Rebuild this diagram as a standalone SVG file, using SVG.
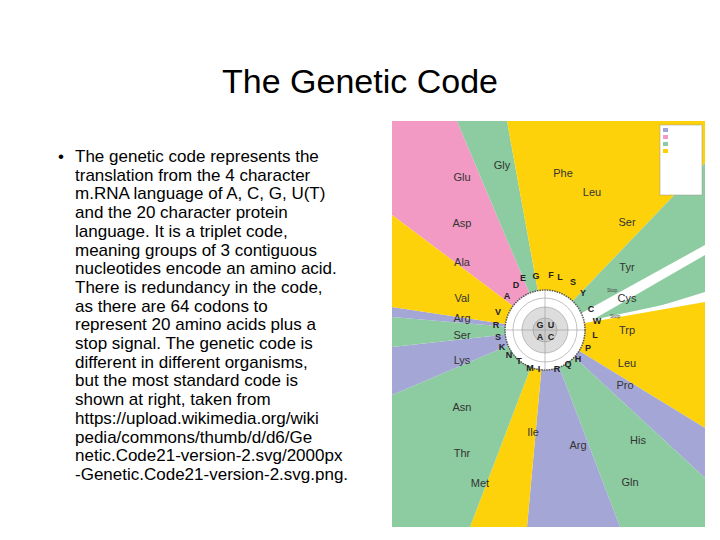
<svg xmlns="http://www.w3.org/2000/svg" width="720" height="540" viewBox="0 0 720 540">
<style>
.t{font-family:"Liberation Sans",Arial,sans-serif;font-size:17px;fill:#000}
.aa{font-family:"Liberation Sans",Arial,sans-serif;font-size:11px;fill:#333;text-anchor:middle}
.sm{font-family:"Liberation Sans",Arial,sans-serif;font-size:5px;fill:#444}
.l{font-family:"Liberation Sans",Arial,sans-serif;font-size:9px;font-weight:bold;fill:#222;text-anchor:middle}
.y{fill:#fdd20a}.g{fill:#8ccca0}.p{fill:#f29ac3}.v{fill:#a4a6d6}
</style>
<rect width="720" height="540" fill="#fff"/>
<text x="360" y="93" text-anchor="middle" style="font-family:'Liberation Sans',Arial,sans-serif;font-size:34px">The Genetic Code</text>
<g id="bullet">
<text class="t" x="58" y="162">•</text>
<text class="t" x="75" y="162">The genetic code represents the</text>
<text class="t" x="75" y="180.7">translation from the 4 character</text>
<text class="t" x="75" y="199.4">m.RNA language of A, C, G, U(T)</text>
<text class="t" x="75" y="218.1">and the 20 character protein</text>
<text class="t" x="75" y="236.8">language. It is a triplet code,</text>
<text class="t" x="75" y="255.5">meaning groups of 3 contiguous</text>
<text class="t" x="75" y="274.2">nucleotides encode an amino acid.</text>
<text class="t" x="75" y="292.9">There is redundancy in the code,</text>
<text class="t" x="75" y="311.6">as there are 64 codons to</text>
<text class="t" x="75" y="330.3">represent 20 amino acids plus a</text>
<text class="t" x="75" y="349">stop signal. The genetic code is</text>
<text class="t" x="75" y="367.7">different in different organisms,</text>
<text class="t" x="75" y="386.4">but the most standard code is</text>
<text class="t" x="75" y="405.1">shown at right, taken from</text>
<text class="t" x="75" y="423.8">https://upload.wikimedia.org/wiki</text>
<text class="t" x="75" y="442.5">pedia/commons/thumb/d/d6/Ge</text>
<text class="t" x="75" y="461.2">netic.Code21-version-2.svg/2000px</text>
<text class="t" x="75" y="479.9">-Genetic.Code21-version-2.svg.png.</text>
</g>
<g id="wheel">
<rect x="392" y="121" width="313" height="406" fill="#fff"/>
<polygon class="p" points="545,330 392,215 392,121 457,121"/>
<polygon class="g" points="545,330 457,121 507,121"/>
<polygon class="y" points="545,330 507,121 705,121 705,163"/>
<polygon class="g" points="545,330 705,163 705,296"/>
<polygon fill="#fff" points="560,325 705,245 705,255 575,330"/>
<polygon fill="#fff" points="575,332 705,292 705,302 580,340"/>
<polygon class="y" points="545,330 705,302 705,428"/>
<polygon class="v" points="545,330 705,428 705,478"/>
<polygon class="g" points="545,330 705,478 705,527 620,527"/>
<polygon class="v" points="545,330 620,527 527,527"/>
<polygon class="y" points="545,330 527,527 470,527"/>
<polygon class="g" points="545,330 470,527 392,527 392,395"/>
<polygon class="v" points="545,330 392,395 392,347"/>
<polygon class="g" points="545,330 392,347 392,317"/>
<polygon class="v" points="545,330 392,317 392,307"/>
<polygon class="y" points="545,330 392,307 392,215"/>
<circle cx="545" cy="330" r="40" fill="#fff" stroke="#555" stroke-width="1.5" stroke-dasharray="1.5 1"/>
<circle cx="545" cy="330" r="32" fill="#fff" stroke="#999" stroke-width="0.6"/>
<circle cx="545" cy="330" r="23" fill="#ddd" stroke="#999" stroke-width="0.6"/>
<circle cx="545" cy="330" r="12" fill="#ccc" stroke="#999" stroke-width="0.6"/>
<line x1="505" y1="330" x2="585" y2="330" stroke="#999" stroke-width="0.6"/>
<line x1="545" y1="290" x2="545" y2="370" stroke="#999" stroke-width="0.6"/>
<text class="l" x="540" y="328">G</text><text class="l" x="551" y="328">U</text>
<text class="l" x="540" y="340">A</text><text class="l" x="551" y="340">C</text>
<rect x="660" y="125" width="42" height="70" fill="#fff" stroke="#999" stroke-width="0.5"/>
<rect x="663" y="128" width="5" height="4" fill="#a4a6d6"/><rect x="663" y="135" width="5" height="4" class="p"/>
<rect x="663" y="142" width="5" height="4" class="g"/><rect x="663" y="149" width="5" height="4" class="y"/>
<text class="l" x="536" y="279">G</text><text class="l" x="551" y="278">F</text><text class="l" x="560" y="280">L</text>
<text class="l" x="573" y="285">S</text><text class="l" x="583" y="296">Y</text><text class="l" x="591" y="312">C</text>
<text class="l" x="597" y="324">W</text><text class="l" x="595" y="338">L</text><text class="l" x="588" y="351">P</text>
<text class="l" x="578" y="362">H</text><text class="l" x="568" y="367">Q</text><text class="l" x="557" y="372">R</text>
<text class="l" x="539" y="372">I</text><text class="l" x="530" y="371">M</text><text class="l" x="519" y="364" fill="#888">T</text>
<text class="l" x="509" y="358">N</text><text class="l" x="502" y="350">K</text><text class="l" x="498" y="340">S</text>
<text class="l" x="496" y="328">R</text><text class="l" x="498" y="315">V</text><text class="l" x="507" y="299">A</text>
<text class="l" x="516" y="288">D</text><text class="l" x="523" y="281">E</text>
<text class="aa" x="462" y="181">Glu</text><text class="aa" x="502" y="169">Gly</text>
<text class="aa" x="563" y="177">Phe</text><text class="aa" x="592" y="196">Leu</text>
<text class="aa" x="627" y="226">Ser</text><text class="aa" x="627" y="271">Tyr</text>
<text class="aa" x="627" y="302">Cys</text><text class="aa" x="627" y="334">Trp</text>
<text class="aa" x="627" y="367">Leu</text><text class="aa" x="625" y="389">Pro</text>
<text class="aa" x="638" y="444">His</text><text class="aa" x="630" y="486">Gln</text>
<text class="aa" x="578" y="449">Arg</text><text class="aa" x="533" y="436">Ile</text>
<text class="aa" x="480" y="487">Met</text><text class="aa" x="462" y="457">Thr</text>
<text class="aa" x="462" y="411">Asn</text><text class="aa" x="462" y="364">Lys</text>
<text class="aa" x="462" y="339">Ser</text><text class="aa" x="462" y="322">Arg</text>
<text class="aa" x="462" y="302">Val</text><text class="aa" x="462" y="266">Ala</text>
<text class="aa" x="462" y="227">Asp</text>
<text class="sm" x="607" y="292">Stop</text><text class="sm" x="610" y="318">Stop</text>
</g>
</svg>
